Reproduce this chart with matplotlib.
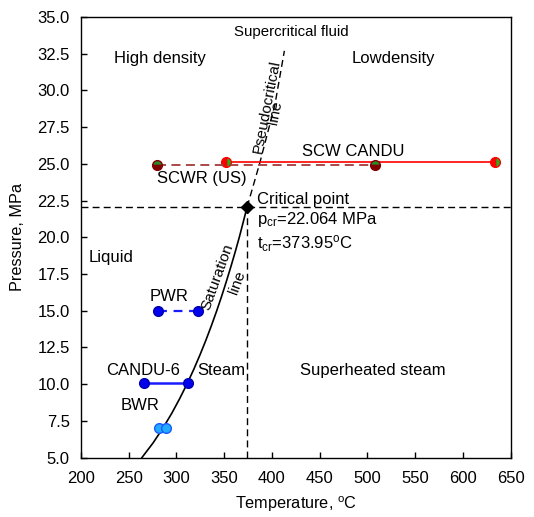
import matplotlib
matplotlib.use('agg')
import matplotlib.pyplot as plt

plt.rcParams['font.family'] = ['Liberation Sans', 'DejaVu Sans']
plt.rcParams['mathtext.fontset'] = 'custom'
plt.rcParams['mathtext.rm'] = 'Liberation Sans'
plt.rcParams['mathtext.it'] = 'Liberation Sans'

# critical point
t_cr = 373.95
p_cr = 22.064

# saturation line (T, P)
sat_t = [263.9, 275.6, 285.8, 295.0, 303.3, 311.0, 318.1, 324.7, 330.9,
         336.7, 342.2, 347.4, 352.3, 357.0, 361.5, 365.8, 369.8, 373.95]
sat_p = [5.0, 6.0, 7.0, 8.0, 9.0, 10.0, 11.0, 12.0, 13.0,
         14.0, 15.0, 16.0, 17.0, 18.0, 19.0, 20.0, 21.0, 22.064]

# pseudocritical line
pc_t = [373.95, 387.0, 403.0, 413.0]
pc_p = [22.064, 25.0, 29.0, 32.7]

# reactors
scwr_t = [280, 508]
scwr_p = [24.95, 24.95]
candu_scw_t = [352, 633]
candu_scw_p = [25.1, 25.1]
pwr_t = [281, 323]
pwr_p = [15.0, 15.0]
candu6_t = [266, 312]
candu6_p = [10.1, 10.1]
bwr_t = [282, 289]
bwr_p = [7.0, 7.0]

xticks = list(range(200, 651, 50))
yticks = [5.0 + 2.5 * i for i in range(13)]

fig = plt.figure(figsize=(5.34, 5.17), dpi=100)
ax = fig.add_axes([0.1515, 0.115, 0.805, 0.852])

fs = 12

# reference dashed lines
ax.plot([200, 650], [p_cr, p_cr], color='black', ls=(0, (5, 3)), lw=1.0)
ax.plot([t_cr, t_cr], [5, p_cr], color='black', ls=(0, (5, 3)), lw=1.0)

# saturation and pseudocritical lines
ax.plot(sat_t, sat_p, color='black', lw=1.2)
ax.plot(pc_t, pc_p, color='black', ls=(0, (5, 3)), lw=1.0)

# reactors
ax.plot(candu_scw_t, candu_scw_p, color='red', lw=1.2, marker='o', ms=7,
        fillstyle='right', mfc='#1fb21f', mfcalt='red', mec='red')
ax.plot(scwr_t, scwr_p, color='#a23a3a', lw=1.3, ls=(0, (5, 3)), marker='o', ms=7,
        fillstyle='top', mfc='#2a8a2a', mfcalt='#800000', mec='#800000')
ax.plot(pwr_t, pwr_p, color='#1a1aff', lw=1.6, ls=(0, (4, 3)), marker='o', ms=7,
        mfc='#0000ee', mec='#0000aa')
ax.plot(candu6_t, candu6_p, color='#1a1aff', lw=1.8, marker='o', ms=7,
        mfc='#0000ee', mec='#0000aa')
ax.plot(bwr_t, bwr_p, color='#1a6aff', lw=1.5, marker='o', ms=7,
        mfc='#22aaff', mec='#1a5aff')

ax.plot([t_cr], [p_cr], marker='D', ms=6, color='black')

# region labels
ax.text(420, 34.0, 'Supercritical fluid', ha='center', va='center', fontsize=10.8)
ax.text(283, 32.2, 'High density', ha='center', va='center', fontsize=fs)
ax.text(527, 32.2, 'Lowdensity', ha='center', va='center', fontsize=fs)
ax.text(232, 18.6, 'Liquid', ha='center', va='center', fontsize=fs)
ax.text(506, 10.96, 'Superheated steam', ha='center', va='center', fontsize=fs)
ax.text(346.5, 10.96, 'Steam', ha='center', va='center', fontsize=fs)

ax.text(395, 28.9, 'Pseudocritical', ha='center', va='center', fontsize=11, rotation=79)
ax.text(404, 28.5, 'line', ha='center', va='center', fontsize=11, rotation=79)
ax.text(343.5, 17.3, 'Saturation', ha='center', va='center', fontsize=11, rotation=70)
ax.text(363.5, 16.9, 'line', ha='center', va='center', fontsize=11, rotation=70)

ax.text(485.5, 25.83, 'SCW CANDU', ha='center', va='center', fontsize=fs)
ax.text(327, 24.0, 'SCWR (US)', ha='center', va='center', fontsize=fs)
ax.text(292, 15.95, 'PWR', ha='center', va='center', fontsize=fs)
ax.text(265.5, 10.96, 'CANDU-6', ha='center', va='center', fontsize=fs)
ax.text(262, 8.57, 'BWR', ha='center', va='center', fontsize=fs)

ax.text(384, 22.55, 'Critical point', ha='left', va='center', fontsize=fs)
ax.text(384, 21.18, r'p$_{\mathregular{cr}}$=22.064 MPa', ha='left', va='center', fontsize=fs)
ax.text(384, 19.6, r't$_{\mathregular{cr}}$=373.95$^{\mathregular{o}}$C', ha='left', va='center', fontsize=fs)

ax.set_xlim(200, 650)
ax.set_ylim(5, 35)
ax.set_xticks(xticks)
ax.set_yticks(yticks)
ax.set_xticklabels([str(v) for v in xticks], fontsize=fs)
ax.set_yticklabels([f'{v:.1f}' for v in yticks], fontsize=fs)
ax.tick_params(direction='in', length=4, width=1, top=False, right=False)
ax.tick_params(axis='x', pad=10)
ax.tick_params(axis='y', pad=8)
for s in ax.spines.values():
    s.set_linewidth(1.0)

ax.set_xlabel(r'Temperature, $^{\mathregular{o}}$C', fontsize=11.7, labelpad=6)
ax.set_ylabel('Pressure, MPa', fontsize=11.7, labelpad=9)

fig.savefig('out.png', dpi=100)
plt.close(fig)
